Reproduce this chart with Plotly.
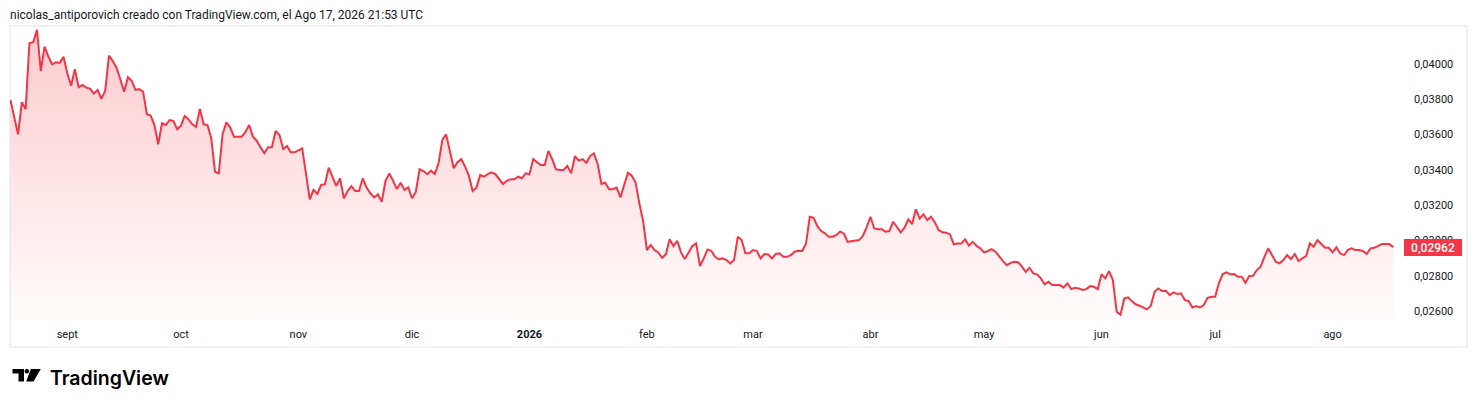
import pandas as pd
import plotly.graph_objects as go

# daily closes, starting 17 Aug 2025
start_date = "2025-08-17"
prices = [
    0.03796, 0.03700, 0.03601, 0.03783, 0.03743, 0.04117, 0.04123, 0.04193, 0.03960, 0.04098,
    0.04041, 0.03998, 0.04010, 0.04006, 0.04041, 0.03947, 0.03877, 0.03970, 0.03868, 0.03881,
    0.03866, 0.03860, 0.03832, 0.03853, 0.03802, 0.03847, 0.04047, 0.04017, 0.03979, 0.03913,
    0.03843, 0.03925, 0.03905, 0.03853, 0.03857, 0.03843, 0.03715, 0.03707, 0.03654, 0.03545,
    0.03664, 0.03654, 0.03682, 0.03677, 0.03630, 0.03650, 0.03705, 0.03686, 0.03658, 0.03644,
    0.03745, 0.03658, 0.03654, 0.03579, 0.03389, 0.03380, 0.03603, 0.03669, 0.03641, 0.03588,
    0.03588, 0.03588, 0.03613, 0.03654, 0.03588, 0.03565, 0.03528, 0.03494, 0.03528, 0.03528,
    0.03620, 0.03597, 0.03518, 0.03535, 0.03499, 0.03499, 0.03510, 0.03522, 0.03380, 0.03233,
    0.03286, 0.03263, 0.03314, 0.03318, 0.03412, 0.03360, 0.03308, 0.03352, 0.03239, 0.03280,
    0.03308, 0.03280, 0.03280, 0.03352, 0.03299, 0.03267, 0.03244, 0.03261, 0.03219, 0.03338,
    0.03380, 0.03338, 0.03291, 0.03327, 0.03286, 0.03301, 0.03239, 0.03276, 0.03403, 0.03393,
    0.03375, 0.03395, 0.03376, 0.03437, 0.03569, 0.03601, 0.03497, 0.03409, 0.03443, 0.03461,
    0.03418, 0.03367, 0.03280, 0.03299, 0.03371, 0.03361, 0.03376, 0.03386, 0.03376, 0.03348,
    0.03320, 0.03338, 0.03346, 0.03346, 0.03361, 0.03352, 0.03380, 0.03375, 0.03461, 0.03443,
    0.03427, 0.03427, 0.03507, 0.03460, 0.03403, 0.03399, 0.03399, 0.03422, 0.03380, 0.03478,
    0.03452, 0.03461, 0.03440, 0.03478, 0.03494, 0.03433, 0.03320, 0.03327, 0.03290, 0.03290,
    0.03299, 0.03244, 0.03318, 0.03384, 0.03367, 0.03329, 0.03210, 0.03110, 0.02945, 0.02974,
    0.02945, 0.02932, 0.02902, 0.02921, 0.03006, 0.02968, 0.02998, 0.02932, 0.02894, 0.02932,
    0.02968, 0.02983, 0.02855, 0.02898, 0.02949, 0.02941, 0.02907, 0.02893, 0.02898, 0.02889,
    0.02870, 0.02889, 0.03021, 0.03002, 0.02927, 0.02927, 0.02945, 0.02941, 0.02898, 0.02923,
    0.02921, 0.02898, 0.02923, 0.02927, 0.02907, 0.02907, 0.02917, 0.02936, 0.02941, 0.02940,
    0.02983, 0.03134, 0.03128, 0.03081, 0.03053, 0.03040, 0.03021, 0.03021, 0.03030, 0.03051,
    0.03038, 0.02992, 0.02996, 0.02998, 0.03002, 0.03025, 0.03074, 0.03134, 0.03068, 0.03063,
    0.03063, 0.03049, 0.03053, 0.03106, 0.03078, 0.03046, 0.03072, 0.03119, 0.03093, 0.03176,
    0.03125, 0.03148, 0.03116, 0.03134, 0.03102, 0.03059, 0.03046, 0.03044, 0.03034, 0.02978,
    0.02983, 0.02983, 0.03006, 0.02970, 0.02992, 0.02970, 0.02955, 0.02932, 0.02940, 0.02951,
    0.02936, 0.02907, 0.02883, 0.02860, 0.02873, 0.02879, 0.02876, 0.02851, 0.02822, 0.02845,
    0.02813, 0.02808, 0.02785, 0.02751, 0.02766, 0.02747, 0.02747, 0.02747, 0.02734, 0.02757,
    0.02724, 0.02731, 0.02728, 0.02719, 0.02724, 0.02741, 0.02737, 0.02724, 0.02808, 0.02785,
    0.02826, 0.02775, 0.02596, 0.02579, 0.02670, 0.02677, 0.02656, 0.02638, 0.02630, 0.02620,
    0.02609, 0.02628, 0.02709, 0.02728, 0.02713, 0.02715, 0.02690, 0.02706, 0.02696, 0.02700,
    0.02662, 0.02656, 0.02620, 0.02628, 0.02620, 0.02634, 0.02675, 0.02681, 0.02681, 0.02760,
    0.02809, 0.02819, 0.02808, 0.02809, 0.02794, 0.02794, 0.02760, 0.02798, 0.02800, 0.02832,
    0.02851, 0.02907, 0.02955, 0.02917, 0.02879, 0.02870, 0.02889, 0.02917, 0.02894, 0.02923,
    0.02883, 0.02898, 0.02911, 0.02983, 0.02964, 0.03002, 0.02979, 0.02958, 0.02958, 0.02932,
    0.02961, 0.02927, 0.02917, 0.02945, 0.02955, 0.02945, 0.02945, 0.02940, 0.02923, 0.02955,
    0.02958, 0.02968, 0.02979, 0.02979, 0.02979, 0.02962,
]

month_ticks = ["2025-09-01", "2025-10-01", "2025-11-01", "2025-12-01", "2026-01-01", "2026-02-01",
               "2026-03-01", "2026-04-01", "2026-05-01", "2026-06-01", "2026-07-01", "2026-08-01"]
month_labels = ["sept", "oct", "nov", "dic", "<b>2026</b>", "feb",
                "mar", "abr", "may", "jun", "jul", "ago"]
price_ticks = [0.026, 0.028, 0.030, 0.032, 0.034, 0.036, 0.038, 0.040]
price_labels = [f"{v:.5f}".replace(".", ",") for v in price_ticks]

header = "nicolas_antiporovich creado con TradingView.com, el Ago 17, 2026 21:53 UTC"

dates = pd.date_range(start_date, periods=len(prices), freq="D")

# the page body has an 8px margin, so the figure is drawn 8px in from the window edge
OFF = 8
W, H = 1478 - OFF, 407 - OFF
L, R, T, B = 10 - OFF, 1400 - OFF, 26 - OFF, 320 - OFF   # plot area in figure pixels


def px(x):
    # window pixel -> paper x
    return (x - OFF - L) / (R - L)


def py(y):
    # window pixel -> paper y
    return (B - (y - OFF)) / (B - T)


RED = "#f23645"
FONT = "Roboto"

fig = go.Figure()
fig.add_trace(go.Scatter(
    x=dates, y=prices, mode="lines",
    line=dict(color=RED, width=2),
    fill="tozeroy",
    fillgradient=dict(type="vertical", start=0.0255, stop=0.0421,
                      colorscale=[[0, "rgba(242,54,69,0.02)"], [1, "rgba(242,54,69,0.26)"]]),
    hoverinfo="skip", showlegend=False,
))

# chart frame
fig.add_shape(type="rect", xref="paper", yref="paper",
              x0=px(10), x1=px(1467), y0=py(347), y1=py(26),
              line=dict(color="#eceef2", width=1.5), layer="below")

# TradingView logo mark
fig.add_shape(type="path", xref="paper", yref="paper",
              path=f"M {px(12.5)},{py(369)} L {px(24)},{py(369)} L {px(24)},{py(381.5)} "
                   f"L {px(18.5)},{py(381.5)} L {px(18.5)},{py(373.5)} L {px(12.5)},{py(373.5)} Z",
              fillcolor="#000000", line=dict(width=0))
fig.add_shape(type="circle", xref="paper", yref="paper",
              x0=px(24.6), x1=px(29), y0=py(373.4), y1=py(369),
              fillcolor="#000000", line=dict(width=0))
fig.add_shape(type="path", xref="paper", yref="paper",
              path=f"M {px(30.8)},{py(369)} L {px(40.8)},{py(369)} L {px(33.5)},{py(381.5)} "
                   f"L {px(26.2)},{py(381.5)} Z",
              fillcolor="#000000", line=dict(width=0))

fig.add_annotation(text="TradingView", xref="paper", yref="paper",
                   x=px(47.5), y=py(377.5), xanchor="left", yanchor="middle", showarrow=False,
                   font=dict(family="Inter", size=19.5, color="#000000", weight=600))

fig.add_annotation(text=header, xref="paper", yref="paper",
                   x=px(8), y=py(15), xanchor="left", yanchor="middle", showarrow=False,
                   font=dict(family=FONT, size=12, color="#131722"))

# last price tag
fig.add_annotation(text=f"{prices[-1]:.5f}".replace(".", ","), xref="paper", yref="y",
                   x=1, y=prices[-1], xanchor="left", yanchor="middle", xshift=4,
                   showarrow=False, bgcolor=RED, borderpad=1, borderwidth=1, bordercolor=RED,
                   width=54, height=13,
                   font=dict(family=FONT, size=12, color="#ffffff", weight=500))

fig.update_layout(
    width=W, height=H,
    margin=dict(l=L, r=W - R, t=T, b=H - B),
    paper_bgcolor="#ffffff", plot_bgcolor="#ffffff",
    font=dict(family=FONT, size=11, color="#131722"),
    xaxis=dict(range=["2025-08-16 21:00", "2026-08-18 19:00"],
               tickvals=month_ticks, ticktext=month_labels,
               showgrid=False, zeroline=False, showline=False, ticks="",
               ticklabelstandoff=6, tickfont=dict(size=11)),
    yaxis=dict(range=[0.02549, 0.04215], side="right",
               tickvals=price_ticks, ticktext=price_labels,
               showgrid=False, zeroline=False, showline=False, ticks="",
               ticklabelstandoff=13, tickfont=dict(size=11)),
)

fig.write_html("out.html")
